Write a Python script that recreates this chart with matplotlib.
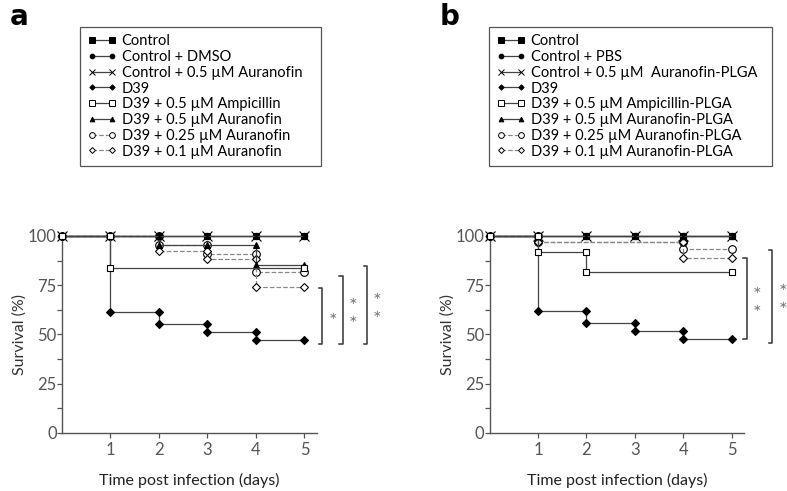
import matplotlib
matplotlib.use("Agg")
import matplotlib.pyplot as plt
from matplotlib.lines import Line2D

plt.rcParams['font.family'] = ['Lato', 'DejaVu Sans']

W, H = 787, 491

# legend labels
labels_a = ["Control", "Control + DMSO", "Control + 0.5 \u00b5M Auranofin", "D39",
            "D39 + 0.5 \u00b5M Ampicillin", "D39 + 0.5 \u00b5M Auranofin",
            "D39 + 0.25 \u00b5M Auranofin", "D39 + 0.1 \u00b5M Auranofin"]
labels_b = ["Control", "Control + PBS", "Control + 0.5 \u00b5M  Auranofin-PLGA", "D39",
            "D39 + 0.5 \u00b5M Ampicillin-PLGA", "D39 + 0.5 \u00b5M Auranofin-PLGA",
            "D39 + 0.25 \u00b5M Auranofin-PLGA", "D39 + 0.1 \u00b5M Auranofin-PLGA"]

# survival data (days observed, survival %) in legend order
days_a = [
    [0, 1, 2, 3, 4, 5],
    [0, 1, 2, 3, 4, 5],
    [0, 1, 2, 3, 4, 5],
    [0, 1, 2, 3, 4, 5],
    [0, 1, 5],
    [0, 1, 2, 3, 4, 5],
    [0, 1, 2, 3, 4, 5],
    [0, 1, 2, 3, 4, 5],
]
surv_a = [
    [100, 100, 100, 100, 100, 100],
    [100, 100, 100, 100, 100, 100],
    [100, 100, 100, 100, 100, 100],
    [100, 61.5, 55.4, 51.2, 47.1, 47.1],
    [100, 83.5, 83.5],
    [100, 100, 95.3, 95.3, 85.3, 85.3],
    [100, 100, 95.3, 91.0, 81.5, 81.5],
    [100, 100, 92.5, 88.3, 74.3, 74.3],
]
days_b = [
    [0, 1, 2, 3, 4, 5],
    [0, 1, 2, 3, 4, 5],
    [0, 1, 2, 3, 4, 5],
    [0, 1, 2, 3, 4, 5],
    [0, 1, 2, 5],
    [0, 1, 2, 3, 4, 5],
    [0, 1, 4, 5],
    [0, 1, 4, 5],
]
surv_b = [
    [100, 100, 100, 100, 100, 100],
    [100, 100, 100, 100, 100, 100],
    [100, 100, 100, 100, 100, 100],
    [100, 62.0, 55.8, 51.5, 47.6, 47.6],
    [100, 92.0, 81.6, 81.6],
    [100, 100, 100, 100, 100, 100],
    [100, 97.1, 93.6, 93.6],
    [100, 97.1, 88.6, 88.6],
]

# significance brackets: (x, y_top, y_bottom, n_stars)
brackets_a = [(5.37, 73.4, 44.9, 1), (5.79, 79.8, 44.9, 2), (6.29, 84.7, 44.9, 2)]
brackets_b = [(5.30, 88.7, 47.6, 2), (5.83, 92.9, 45.8, 2)]

# marker / line styles per series (legend order)
styles = [
    dict(marker='s', mfc='black', ms=5.0, ls='-'),
    dict(marker='o', mfc='black', ms=4.5, ls='-'),
    dict(marker='x', mfc='black', ms=6.5, ls='-'),
    dict(marker='D', mfc='black', ms=3.6, ls='-'),
    dict(marker='s', mfc='white', ms=5.0, ls='-'),
    dict(marker='^', mfc='black', ms=4.5, ls='-'),
    dict(marker='o', mfc='white', ms=5.5, ls='--'),
    dict(marker='D', mfc='white', ms=4.0, ls='--'),
]
draw_order = [6, 7, 5, 3, 1, 0, 2, 4]

GRAY = '#555555'


def draw_series(ax, days, vals, st, z):
    lc = '#888888' if st['ls'] == '--' else '#444444'
    ax.step(days, vals, where='post', color=lc, ls=st['ls'], lw=0.9,
            zorder=z, clip_on=False)
    xs, ys = [days[0]], [vals[0]]
    for i in range(1, len(days)):
        if vals[i] != vals[i - 1]:
            xs.append(days[i])
            ys.append(vals[i - 1])
        xs.append(days[i])
        ys.append(vals[i])
    ax.plot(xs, ys, ls='none', marker=st['marker'], ms=st['ms'],
            mfc=st['mfc'], mec='black', mew=0.8, zorder=z + 0.5, clip_on=False)


def draw_panel(ax, days, surv, brackets, star_dx):
    for k, i in enumerate(draw_order):
        draw_series(ax, days[i], surv[i], styles[i], 3 + k)
    ax.set_xlim(0, 5.25)
    ax.set_ylim(0, 100)
    ax.set_xticks([1, 2, 3, 4, 5])
    ax.set_yticks([0, 25, 50, 75, 100])
    ax.set_yticks([12.5, 37.5, 62.5, 87.5], minor=True)
    for s in ['top', 'right']:
        ax.spines[s].set_visible(False)
    for s in ['left', 'bottom']:
        ax.spines[s].set_color(GRAY)
        ax.spines[s].set_linewidth(1.0)
    ax.tick_params(which='both', colors=GRAY, labelsize=12, length=3.5, width=0.9)
    ax.tick_params(axis='y', pad=0.3)
    ax.set_ylabel("Survival (%)", fontsize=11.5, color='#333333')
    ax.set_xlabel("Time post infection (days)", fontsize=11.5, color='#222222')
    ax.yaxis.set_label_coords(-0.137, 0.5)
    ax.xaxis.set_label_coords(0.5, -0.205)
    for x, yt, yb, n in brackets:
        ax.plot([x - 0.07, x, x, x - 0.07], [yt, yt, yb, yb], color='#333333',
                lw=1.1, clip_on=False)
        ym = (yt + yb) / 2
        if n == 1:
            pos = [ym]
        else:
            pos = [ym + 4.5, ym - 4.5]
        for y in pos:
            ax.text(x + star_dx, y, "\u2217", ha='center', va='center',
                    fontsize=7.5, color='#777777', clip_on=False,
                    family=['DejaVu Sans'])


def add_legend(fig, labels, x0, x1):
    handles = []
    for st in styles:
        lc = '#888888' if st['ls'] == '--' else '#444444'
        handles.append(Line2D([0], [0], color=lc, ls=st['ls'], lw=0.9,
                              marker=st['marker'], ms=st['ms'] * 0.75,
                              mfc=st['mfc'], mec='black', mew=0.7))
    leg = fig.legend(handles, labels, loc='upper left',
                     bbox_to_anchor=(x0 / W, 1 - 27 / H, (x1 - x0) / W, 0.0),
                     mode='expand', numpoints=2, fontsize=10.5,
                     handlelength=2.0, handletextpad=0.35, labelspacing=0.12,
                     borderpad=0.5, borderaxespad=0, fancybox=False,
                     framealpha=1, edgecolor=GRAY)
    leg.get_frame().set_linewidth(0.9)
    return leg


fig = plt.figure(figsize=(W / 100, H / 100), dpi=100)

ax_w = (316.6 - 62) / W
ax_b = 1 - 432.7 / H
ax_h = (432.7 - 236) / H
ax_a = fig.add_axes([62 / W, ax_b, ax_w, ax_h])
ax_bb = fig.add_axes([489.5 / W, ax_b, ax_w, ax_h])

draw_panel(ax_a, days_a, surv_a, brackets_a, 0.21)
draw_panel(ax_bb, days_b, surv_b, brackets_b, 0.22)

add_legend(fig, labels_a, 80, 321)
add_legend(fig, labels_b, 489, 772)

fig.text(10 / W, 1 - 17 / H, "a", fontsize=20, fontweight='bold', ha='left',
         va='center', family=['DejaVu Sans'])
fig.text(440 / W, 1 - 17 / H, "b", fontsize=20, fontweight='bold', ha='left',
         va='center', family=['DejaVu Sans'])

fig.savefig("out.png", dpi=100)
